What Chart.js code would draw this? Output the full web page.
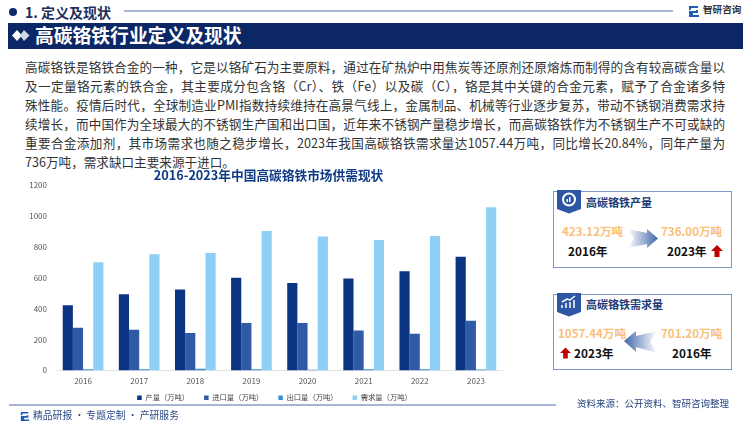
<!DOCTYPE html>
<html lang="zh">
<head>
<meta charset="utf-8">
<script src="https://cdn.jsdelivr.net/npm/chart.js@4"></script>
<style>
html,body{margin:0;padding:0;background:#fff}
body{width:750px;height:423px;position:relative;overflow:hidden;font-family:"Noto Sans CJK SC","Noto Sans",sans-serif}
.a{position:absolute;white-space:nowrap;line-height:1}
.l{position:absolute;left:25px;width:700px;font-size:12.6px;line-height:19px;color:#333;white-space:nowrap;text-align:justify;text-align-last:justify}
.card{position:absolute;left:553px;width:179px;box-sizing:border-box;border:1px solid #7f97c6;background:#fff}
.or{color:#fbbf78;font-weight:700;font-size:11.6px}
.bk{color:#111;font-weight:700;font-size:11.8px}
.ct{color:#1d3a78;font-weight:700;font-size:11px}
#c{position:absolute;left:20px;top:164px}
</style>
</head>
<body>
<div class="a" style="left:8.500px;top:8px;width:8px;height:8px;border-radius:50%;background:#10296a;"></div>
<div class="a" style="left:25px;top:5px;font-size:14px;font-weight:700;color:#1f2f5c;">1. 定义及现状</div>
<div class="a" style="left:124px;top:10px;width:549px;height:2px;background:#a8b4d4;"></div>
<svg class="a" style="left:688px;top:5px" width="12" height="13" viewBox="0 0 12 13"><path d="M1 1h9v2H3v2h7v3H5v2h6v2H1V6h7V5H1z" fill="#1d5fb5"/></svg>
<div class="a" style="left:703px;top:5px;font-size:9.600px;font-weight:700;color:#333;">智研咨询</div>
<div class="a" style="left:8px;top:23px;width:735px;height:26px;background:#0b2765;"></div>
<svg class="a" style="left:12px;top:30px" width="18" height="11" viewBox="0 0 18 11"><path d="M5 0l5 5.500l-5 5.500l-5-5.500z" fill="#fff"/><path d="M12 0l5.500 5.500l-5.500 5.500l-4-5.500z" fill="#cfd6e6"/></svg>
<div class="a" style="left:35px;top:26px;font-size:18.800px;font-weight:700;color:#fff;">高碳铬铁行业定义及现状</div>

<div class="l" style="top:56.500px">高碳铬铁是铬铁合金的一种，它是以铬矿石为主要原料，通过在矿热炉中用焦炭等还原剂还原熔炼而制得的含有较高碳含量以</div>
<div class="l" style="top:75.700px">及一定量铬元素的铁合金，其主要成分包含铬（Cr）、铁（Fe）以及碳（C），铬是其中关键的合金元素，赋予了合金诸多特</div>
<div class="l" style="top:94.800px">殊性能。疫情后时代，全球制造业PMI指数持续维持在高景气线上，金属制品、机械等行业逐步复苏，带动不锈钢消费需求持</div>
<div class="l" style="top:113.500px">续增长，而中国作为全球最大的不锈钢生产国和出口国，近年来不锈钢产量稳步增长，而高碳铬铁作为不锈钢生产不可或缺的</div>
<div class="l" style="top:132.500px">重要合金添加剂，其市场需求也随之稳步增长，2023年我国高碳铬铁需求量达1057.44万吨，同比增长20.84%，同年产量为</div>
<div class="l" style="top:151.500px;text-align-last:left">736万吨，需求缺口主要来源于进口。</div>

<canvas id="c" width="497" height="242" style="width:497px;height:242px"></canvas>

<div class="card" style="top:191px;height:77px"></div>
<svg class="a" style="left:557px;top:190px" width="25" height="24" viewBox="0 0 25 24"><path d="M0 0h24v19l-12 4.500l-12-4.500z" fill="#2d57a5"/><circle cx="12" cy="9.500" r="6" fill="none" stroke="#fff" stroke-width="2"/><rect x="9.500" y="9" width="1.500" height="3" fill="#fff"/><rect x="12" y="7" width="1.500" height="5" fill="#fff"/></svg>
<div class="a ct" style="left:586px;top:196.500px">高碳铬铁产量</div>
<div class="a or" style="left:562px;top:226px">423.12万吨</div>
<div class="a bk" style="left:568px;top:245px">2016年</div>
<div class="a or" style="left:661px;top:226px">736.00万吨</div>
<div class="a bk" style="left:667px;top:245px">2023年</div>
<svg class="a" style="left:711px;top:245px" width="12" height="12" viewBox="0 0 12 12"><path d="M6 0l6 6H8.500v6h-5V6H0z" fill="#c00000"/></svg>
<svg class="a" style="left:628px;top:229px" width="30" height="20" viewBox="0 0 30 20"><defs><linearGradient id="g1" x1="0" x2="1" y1="0" y2="0"><stop offset="0" stop-color="#fff"/><stop offset="1" stop-color="#3f66ac"/></linearGradient></defs><path d="M0 0l19 4V0l11 9.500l-11 9.500v-4L0 19l6-9.500z" fill="url(#g1)"/></svg>

<div class="card" style="top:294px;height:76px"></div>
<svg class="a" style="left:557px;top:293px" width="25" height="24" viewBox="0 0 25 24"><path d="M0 0h24v19l-12 4.500l-12-4.500z" fill="#2d57a5"/><path d="M5 15v-3M9 15v-5M13 15v-6M17 15V7M5 9l5-3l3 1l5-4" stroke="#fff" stroke-width="1.500" fill="none"/></svg>
<div class="a ct" style="left:586px;top:298.500px">高碳铬铁需求量</div>
<div class="a or" style="left:558px;top:328px">1057.44万吨</div>
<div class="a bk" style="left:574px;top:347px">2023年</div>
<svg class="a" style="left:560px;top:347px" width="11" height="12" viewBox="0 0 12 12"><path d="M6 0l6 6H8.500v6h-5V6H0z" fill="#c00000"/></svg>
<div class="a or" style="left:661px;top:328px">701.20万吨</div>
<div class="a bk" style="left:672px;top:347px">2016年</div>
<svg class="a" style="left:624px;top:331px" width="33" height="22" viewBox="0 0 33 22"><defs><linearGradient id="g2" x1="1" x2="0" y1="0" y2="0"><stop offset="0" stop-color="#fff"/><stop offset="1" stop-color="#3f66ac"/></linearGradient></defs><path d="M33 0L12 5V0L0 10l12 11v-5l21 6l-7-11z" fill="url(#g2)"/></svg>

<div class="a" style="left:9px;top:404px;width:547px;height:2px;background:#a8b4d4;"></div>
<svg class="a" style="left:20px;top:411px" width="10" height="11" viewBox="0 0 12 13"><path d="M1 1h9v2H3v2h7v3H5v2h6v2H1V6h7V5H1z" fill="#1d5fb5"/></svg>
<div class="a" style="left:33px;top:411px;font-size:9.800px;color:#2a4a86;">精品研报 · 专题定制 · 产研服务</div>
<div class="a" style="left:577px;top:399px;font-size:9.500px;color:#24447e;">资料来源：公开资料、智研咨询整理</div>

<script>
const categories = ["2016","2017","2018","2019","2020","2021","2022","2023"];
const seriesNames = ["产量（万吨）","进口量（万吨）","出口量（万吨）","需求量（万吨）"];
const production = [423,493,525,601,566,595,642,736];
const imports = [277,264,242,307,307,259,238,322];
const exports_ = [7,7,10,7,5,8,8,6];
const demand = [701,752,761,904,867,845,871,1057];
const yTicks = [0,200,400,600,800,1000,1200];
const colors = ["#0b3583","#2f5aa6","#3a8fd0","#90cff5"];
const chartTitle = "2016-2023年中国高碳铬铁市场供需现状";
const values = [production, imports, exports_, demand];
const fontFamily = '"Noto Sans CJK SC","Noto Sans",sans-serif';

const legendFit = {
  id: "legendFit",
  beforeInit(chart) {
    const fit = chart.legend.fit;
    chart.legend.fit = function () { fit.call(this); this.height = 10; };
  },
  afterLayout(chart) {
    const { legend, titleBlock } = chart;
    legend.top -= 13;
    legend.left += 12.5; legend.right += 12.5;
    titleBlock.left += 6.5; titleBlock.right += 6.5;
  }
};

new Chart(document.getElementById("c"), {
  type: "bar",
  plugins: [legendFit],
  data: {
    labels: categories,
    datasets: seriesNames.map((n, i) => ({
      label: n, data: values[i], backgroundColor: colors[i],
      categoryPercentage: 0.725, barPercentage: 1
    }))
  },
  options: {
    responsive: false, animation: false,
    layout: { padding: { left: 0, right: 13, top: 4, bottom: 4 } },
    plugins: {
      tooltip: { enabled: false },
      title: { display: true, text: chartTitle, color: "#0e3a86",
        font: { size: 12.7, weight: "bold", family: fontFamily }, padding: { top: 0, bottom: 2 } },
      legend: { position: "bottom",
        labels: { boxWidth: 4.5, boxHeight: 4.5, color: "#444", padding: 15, font: { size: 7.3, family: fontFamily } } }
    },
    scales: {
      x: { grid: { display: false, drawTicks: false }, border: { color: "#e3e3e3" },
        ticks: { color: "#555", font: { size: 8, family: fontFamily }, padding: 6 } },
      y: { min: 0, max: 1200, grid: { display: false, drawTicks: false }, border: { display: false },
        afterFit(s) { s.width = 35; },
        afterBuildTicks(s) { s.ticks = yTicks.map(v => ({ value: v })); },
        ticks: { color: "#555", font: { size: 8, family: fontFamily }, padding: 8, callback: v => String(v) } }
    }
  }
});
</script>
</body>
</html>
